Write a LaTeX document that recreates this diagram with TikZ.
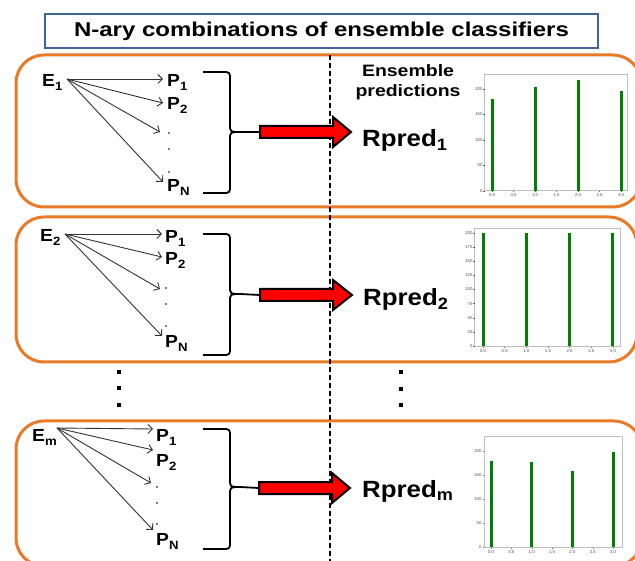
\documentclass[tikz,border=0pt]{standalone}
\usepackage{fontspec}
\usepackage{graphicx}
\setmainfont{Liberation Sans}
\usetikzlibrary{arrows.meta}
\definecolor{boxorange}{RGB}{232,122,40}
\definecolor{titleblue}{RGB}{65,100,150}
\definecolor{bargreen}{RGB}{0,128,0}
\definecolor{framegray}{RGB}{190,190,190}
\newcommand{\lsub}[1]{{\fontsize{12}{12}\selectfont\raisebox{-4pt}{#1}}}
\newcommand{\rsub}[1]{{\fontsize{16.5}{16.5}\selectfont\raisebox{-3.5pt}{#1}}}
\newcommand{\wide}[2]{\scalebox{#1}[1]{#2}}
\begin{document}
\begin{tikzpicture}[x=1pt,y=-1pt,
  panel/.style={draw=boxorange,line width=3pt,rounded corners=28pt},
  titlebox/.style={draw=titleblue,line width=2.5pt},
  titletext/.style={font=\fontsize{20}{20}\selectfont\bfseries,inner sep=0pt},
  lbl/.style={font=\fontsize{17.5}{18}\selectfont\bfseries,inner sep=0pt,anchor=base west},
  rlbl/.style={font=\fontsize{23.5}{24}\selectfont\bfseries,inner sep=0pt,anchor=base west},
  enslbl/.style={font=\fontsize{16.5}{19.5}\selectfont\bfseries,align=center,inner sep=0pt},
  arr/.style={draw=black!80,line width=0.9pt,-{Straight Barb[length=4.5pt,width=9pt]}},
  brace/.style={draw=black,line width=1.8pt,line join=round},
  redarrow/.style={fill=red,draw=black,line width=2pt,line join=miter},
  sep/.style={draw=black,line width=1.6pt,dash pattern=on 5pt off 3pt},
  smalldot/.style={circle,fill=black,inner sep=0pt,minimum size=1.8pt},
  bigdot/.style={rectangle,fill=black,inner sep=0pt,minimum size=3.2pt},
  frame/.style={draw=framegray,line width=1pt},
  bar/.style={draw=bargreen,line width=3pt},
  tick/.style={draw=black!60,line width=0.4pt},
  ticklab/.style={font=\fontsize{4.3}{4.5}\selectfont,text=black!70,inner sep=0.8pt}
]
\useasboundingbox (0,0) rectangle (635,561);
\clip (0,0) rectangle (635,561);

% ---------- title ----------
\node[titlebox,minimum width=553pt,minimum height=34pt,inner sep=0pt] (title) at (321.5,31) {};
\node[titletext] (titlet) at (title.center) {\wide{1.2}{N-ary combinations of ensemble classifiers}};

% ---------- panels ----------
\draw[panel] (16,55) rectangle (641,207);
\draw[panel] (16,217) rectangle (637,362);
\draw[panel] (16,421) rectangle (642,566);

% ---------- separator ----------
\coordinate (dtop) at (330,55);
\coordinate (dbot) at (330,561);
\draw[sep] (dtop) -- (dbot);

% ---------- vertical ellipsis ----------
\node[bigdot] (l1) at (119,372) {};
\node[bigdot] (l2) at (119,388) {};
\node[bigdot] (l3) at (119,405) {};
\node[bigdot] (r1) at (401,372) {};
\node[bigdot] (r2) at (401,389) {};
\node[bigdot] (r3) at (401,405) {};

% ================= panel 1 =================
\node[lbl] (E1) at (42,87) {\wide{1.1}{E\lsub{1}}};
\node[lbl] (P11) at (167,87) {\wide{1.1}{P\lsub{1}}};
\node[lbl] (P12) at (167,110) {\wide{1.1}{P\lsub{2}}};
\node[lbl] (P1N) at (167,192) {\wide{1.1}{P\lsub{N}}};
\node[smalldot] (d11) at (169,133) {};
\node[smalldot] (d12) at (169,149) {};
\node[smalldot] (d13) at (169,172) {};
\coordinate (o1) at (67,79);
\coordinate (t11) at (163,79);
\coordinate (t12) at (163,103);
\coordinate (t13) at (160,132);
\coordinate (t1N) at (163,182);
\draw[arr] (o1) -- (t11);
\draw[arr] (o1) -- (t12);
\draw[arr] (o1) -- (t13);
\draw[arr] (o1) -- (t1N);
\draw[brace] (203,72) -- (222,72) .. controls (230,72) .. (230,80) -- (230,124)
  .. controls (230,132) .. (240,132) .. controls (230,132) .. (230,140) -- (230,185)
  .. controls (230,193) .. (222,193) -- (203,193);
\coordinate (b1) at (240,132);
\coordinate (a1) at (260,132);
\draw[brace] (b1) -- (a1);
\draw[redarrow,shift={(a1)}] (0,-6) -- (73,-6) -- (73,-15) -- (91,0) -- (73,15) -- (73,6) -- (0,6) -- cycle;
\node[rlbl] (R1) at (362,147) {\wide{1.1}{Rpred\rsub{1}}};
\node[enslbl] (ens) at (408,82) {\wide{1.18}{Ensemble}\\\wide{1.18}{predictions}};

% chart 1
\begin{scope}[shift={(492,191)},x=43pt,y=0.51pt]
  \draw[frame] (-0.163,0) rectangle (3.14,229.4);
  \foreach \v in {0,50,100,150,200}
    \draw[tick] (-0.163,\v) -- ++(-1.5pt,0pt) node[left,ticklab] {\v};
  \foreach \t in {0.0,0.5,1.0,1.5,2.0,2.5,3.0}
    \draw[tick] (\t,0) -- ++(0pt,-1.5pt) node[below,ticklab] {\t};
  \foreach \i/\v in {0/180,1/203,2/218,3/197}
    \draw[bar] (\i,0) -- (\i,\v);
\end{scope}

% ================= panel 2 =================
\node[lbl] (E2) at (40,242) {\wide{1.1}{E\lsub{2}}};
\node[lbl] (P21) at (165,243) {\wide{1.1}{P\lsub{1}}};
\node[lbl] (P22) at (165,265) {\wide{1.1}{P\lsub{2}}};
\node[lbl] (P2N) at (165,348) {\wide{1.1}{P\lsub{N}}};
\node[smalldot] (d21) at (166,288) {};
\node[smalldot] (d22) at (166,304) {};
\node[smalldot] (d23) at (166,326) {};
\coordinate (o2) at (65,234);
\coordinate (t21) at (162,234);
\coordinate (t22) at (162,257);
\coordinate (t23) at (160,289);
\coordinate (t2N) at (162,336);
\draw[arr] (o2) -- (t21);
\draw[arr] (o2) -- (t22);
\draw[arr] (o2) -- (t23);
\draw[arr] (o2) -- (t2N);
\draw[brace] (203,234) -- (222,234) .. controls (230,234) .. (230,242) -- (230,286)
  .. controls (230,294) .. (240,294) .. controls (230,294) .. (230,302) -- (230,347)
  .. controls (230,355) .. (222,355) -- (203,355);
\coordinate (b2) at (240,294);
\coordinate (a2) at (260,295);
\draw[brace] (b2) -- (a2);
\draw[redarrow,shift={(a2)}] (0,-6) -- (73,-6) -- (73,-15) -- (92,0) -- (73,15) -- (73,6) -- (0,6) -- cycle;
\node[rlbl] (R2) at (363,306) {\wide{1.1}{Rpred\rsub{2}}};

% chart 2
\begin{scope}[shift={(483,346)},x=43.3pt,y=0.565pt]
  \draw[frame] (-0.185,-1.77) rectangle (3.164,208.8);
  \foreach \v in {0,25,50,75,100,125,150,175,200}
    \draw[tick] (-0.185,\v) -- ++(-1.5pt,0pt) node[left,ticklab] {\v};
  \foreach \t in {0.0,0.5,1.0,1.5,2.0,2.5,3.0}
    \draw[tick] (\t,-1.77) -- ++(0pt,-1.5pt) node[below,ticklab] {\t};
  \foreach \i/\v in {0/200,1/200,2/200,3/200}
    \draw[bar] (\i,0) -- (\i,\v);
\end{scope}

% ================= panel 3 =================
\node[lbl] (E3) at (32,442) {\wide{1.1}{E\lsub{m}}};
\node[lbl] (P31) at (156,442) {\wide{1.1}{P\lsub{1}}};
\node[lbl] (P32) at (156,467) {\wide{1.1}{P\lsub{2}}};
\node[lbl] (P3N) at (156,545) {\wide{1.1}{P\lsub{N}}};
\node[smalldot] (d31) at (157,487) {};
\node[smalldot] (d32) at (157,503) {};
\node[smalldot] (d33) at (157,524) {};
\coordinate (o3) at (57,428);
\coordinate (t31) at (153,429);
\coordinate (t32) at (153,450);
\coordinate (t33) at (151,483);
\coordinate (t3N) at (153,530);
\draw[arr] (o3) -- (t31);
\draw[arr] (o3) -- (t32);
\draw[arr] (o3) -- (t33);
\draw[arr] (o3) -- (t3N);
\draw[brace] (203,429) -- (222,429) .. controls (230,429) .. (230,437) -- (230,479)
  .. controls (230,487) .. (240,487) .. controls (230,487) .. (230,495) -- (230,541)
  .. controls (230,549) .. (222,549) -- (203,549);
\coordinate (b3) at (240,487);
\coordinate (a3) at (259,488);
\draw[brace] (b3) -- (a3);
\draw[redarrow,shift={(a3)}] (0,-6) -- (73,-6) -- (73,-15) -- (91,0) -- (73,15) -- (73,6) -- (0,6) -- cycle;
\node[rlbl] (R3) at (362,497) {\wide{1.1}{Rpred\rsub{m}}};

% chart 3
\begin{scope}[shift={(491,547)},x=40.7pt,y=0.48pt]
  \draw[frame] (-0.172,-2.08) rectangle (3.22,231.2);
  \foreach \v in {0,50,100,150,200}
    \draw[tick] (-0.172,\v) -- ++(-1.5pt,0pt) node[left,ticklab] {\v};
  \foreach \t in {0.0,0.5,1.0,1.5,2.0,2.5,3.0}
    \draw[tick] (\t,-2.08) -- ++(0pt,-1.5pt) node[below,ticklab] {\t};
  \foreach \i/\v in {0/180,1/177,2/158,3/197}
    \draw[bar] (\i,0) -- (\i,\v);
\end{scope}
\end{tikzpicture}
\end{document}
